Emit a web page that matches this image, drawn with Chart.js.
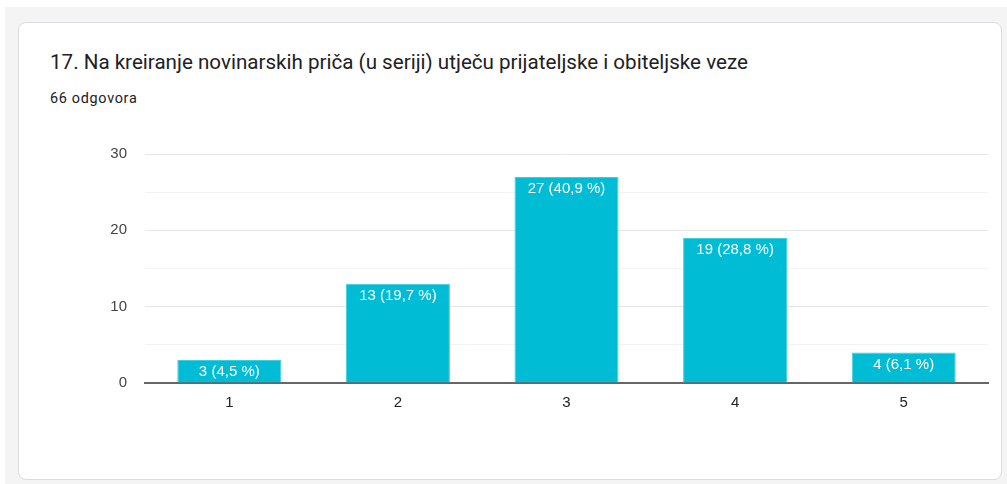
<!DOCTYPE html>
<html>
<head>
<meta charset="utf-8">
<script src="https://cdn.jsdelivr.net/npm/chart.js@4.4.0/dist/chart.umd.min.js"></script>
<style>
  body { margin: 0; background: #fff; width: 1007px; height: 484px; overflow: hidden; position: relative; }
  #bg { position: absolute; left: 5px; top: 7px; right: 0; bottom: 0; background: #f4f4f4; }
  #card { position: absolute; left: 18px; top: 22px; width: 984px; height: 458px; background: #fff;
    border: 1px solid #dadce0; border-radius: 8px; box-sizing: border-box; }
  #title { position: absolute; left: 50px; top: 50px; font-family: Roboto, sans-serif; font-size: 20.6px; color: #202124; white-space: nowrap; }
  #sub { position: absolute; left: 50px; top: 90px; font-family: Roboto, sans-serif; font-size: 14.4px; letter-spacing: 0.7px; color: #202124; }
  #wrap { position: absolute; left: 0; top: 0; width: 1007px; height: 484px; }
</style>
</head>
<body>
<div id="bg"></div>
<div id="card"></div>
<div id="title">17. Na kreiranje novinarskih priča (u seriji) utječu prijateljske i obiteljske veze</div>
<div id="sub">66 odgovora</div>
<div id="wrap"><canvas id="chart" width="1007" height="484"></canvas></div>
<script>
const categories = ['1', '2', '3', '4', '5'];
const counts = [3, 13, 27, 19, 4];
const percents = ['4,5', '19,7', '40,9', '28,8', '6,1'];
const yTicks = [0, 10, 20, 30];

// labels inside the top of each bar
const barLabels = {
  id: 'barLabels',
  afterDatasetsDraw(chart) {
    const ctx = chart.ctx;
    const meta = chart.getDatasetMeta(0);
    ctx.save();
    ctx.font = '15px "Liberation Sans", Arial, sans-serif';
    ctx.fillStyle = '#ffffff';
    ctx.textAlign = 'center';
    ctx.textBaseline = 'middle';
    meta.data.forEach((bar, i) => {
      ctx.fillText(counts[i] + ' (' + percents[i] + ' %)', bar.x, bar.y + 12);
    });
    ctx.restore();
  }
};

new Chart(document.getElementById('chart'), {
  type: 'bar',
  data: {
    labels: categories,
    datasets: [{
      data: counts,
      backgroundColor: '#00bcd4',
      borderColor: '#3fcde0',
      borderWidth: { top: 1, left: 1, right: 1, bottom: 0 },
      categoryPercentage: 1,
      barPercentage: 0.617
    }]
  },
  options: {
    responsive: false,
    animation: false,
    layout: { padding: { left: 0, right: 19, top: 154, bottom: 0 } },
    plugins: { legend: { display: false }, tooltip: { enabled: false } },
    scales: {
      x: {
        grid: { display: false, drawTicks: false },
        border: { display: true, color: '#666666', width: 2 },
        ticks: { padding: 11, color: '#222', font: { family: '"Liberation Sans", Arial, sans-serif', size: 15 } },
        afterFit(scale) { scale.height = 101; }
      },
      y: {
        min: 0,
        max: 30,
        grid: {
          drawTicks: false,
          color: ctx => (ctx.tick.value % 10 === 0 ? '#e6e6e6' : '#f3f3f3')
        },
        border: { display: false },
        ticks: {
          stepSize: 5,
          padding: 18,
          color: '#444',
          font: { family: '"Liberation Sans", Arial, sans-serif', size: 15 },
          callback: v => (yTicks.includes(v) ? v : '')
        },
        afterFit(scale) { scale.width = 145; }
      }
    }
  },
  plugins: [barLabels]
});
</script>
</body>
</html>
